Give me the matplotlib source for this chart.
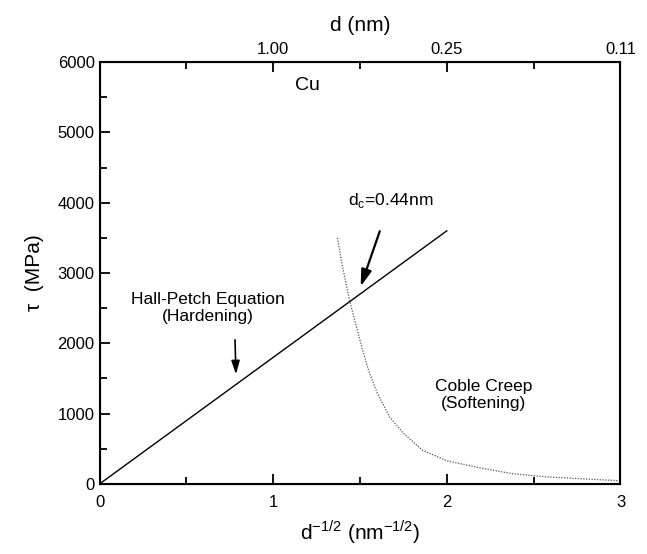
import numpy as np
import matplotlib
matplotlib.use('Agg')
import matplotlib.pyplot as plt
from matplotlib.ticker import MultipleLocator

plt.rcParams['font.family'] = ['Liberation Sans', 'DejaVu Sans']

# Hall-Petch line (hardening)
hp_x = [0.0, 2.0]
hp_y = [0.0, 3600.0]

# Coble creep curve (softening)
cc_x = [1.37, 1.40, 1.44, 1.48, 1.51, 1.55, 1.60, 1.67, 1.75, 1.86, 2.00, 2.19, 2.38, 2.58, 3.00]
cc_y = [3500, 3080, 2610, 2230, 1950, 1610, 1290, 955, 720, 480, 330, 230, 145, 100, 45]

# top axis: grain size d for d^-1/2 = 1, 2, 3
top_ticks = [1, 2, 3]
top_labels = ['1.00', '0.25', '0.11']

fig = plt.figure(figsize=(6.47, 5.54), dpi=100)
ax = fig.add_axes([0.1538, 0.1264, 0.8052, 0.7616])

ax.plot(hp_x, hp_y, color='black', linewidth=1.0)
ax.plot(cc_x, cc_y, color='#555555', linestyle=(0, (1, 1.2)), linewidth=0.9)

ax.set_xlim(0, 3)
ax.set_ylim(0, 6000)
ax.xaxis.set_major_locator(MultipleLocator(1))
ax.xaxis.set_minor_locator(MultipleLocator(0.5))
ax.yaxis.set_major_locator(MultipleLocator(1000))
ax.yaxis.set_minor_locator(MultipleLocator(500))
ax.tick_params(which='both', direction='in', width=1.3, labelsize=12, right=False, top=False)
ax.tick_params(which='major', length=7)
ax.tick_params(which='minor', length=5)
ax.tick_params(axis='x', pad=8)
for s in ax.spines.values():
    s.set_linewidth(1.5)

ax.set_xlabel(r'd$^{\mathregular{-1/2}}$ (nm$^{\mathregular{-1/2}}$)', fontsize=15, labelpad=6)
ax.set_ylabel('τ  (MPa)', fontsize=15, labelpad=10)

top = ax.twiny()
top.set_xlim(ax.get_xlim())
top.set_xticks(top_ticks)
top.set_xticklabels(top_labels)
top.xaxis.set_minor_locator(MultipleLocator(0.5))
top.tick_params(which='both', direction='in', width=1.3, labelsize=12)
top.tick_params(which='major', length=7)
top.tick_params(which='minor', length=5)
top.set_xlabel('d (nm)', fontsize=15, labelpad=8)

ax.text(1.195, 5660, 'Cu', fontsize=14, ha='center', va='center')
ax.text(0.625, 2500, 'Hall-Petch Equation\n(Hardening)', fontsize=12.5,
        ha='center', va='center', linespacing=1.2)
ax.text(2.214, 1262, 'Coble Creep\n(Softening)', fontsize=12.5,
        ha='center', va='center', linespacing=1.2)

ax.annotate('', xy=(0.786, 1520), xytext=(0.78, 2090),
            arrowprops=dict(arrowstyle='-|>,head_length=0.8,head_width=0.25',
                            color='black', linewidth=1.2))
ax.annotate(r'd$_{\mathregular{c}}$=0.44nm', xy=(1.504, 2810), xytext=(1.675, 4030),
            fontsize=12.5, ha='center', va='center',
            arrowprops=dict(arrowstyle='-|>,head_length=0.8,head_width=0.25',
                            color='black', linewidth=1.6, shrinkA=14, shrinkB=0))

fig.savefig('out.png', dpi=100)
